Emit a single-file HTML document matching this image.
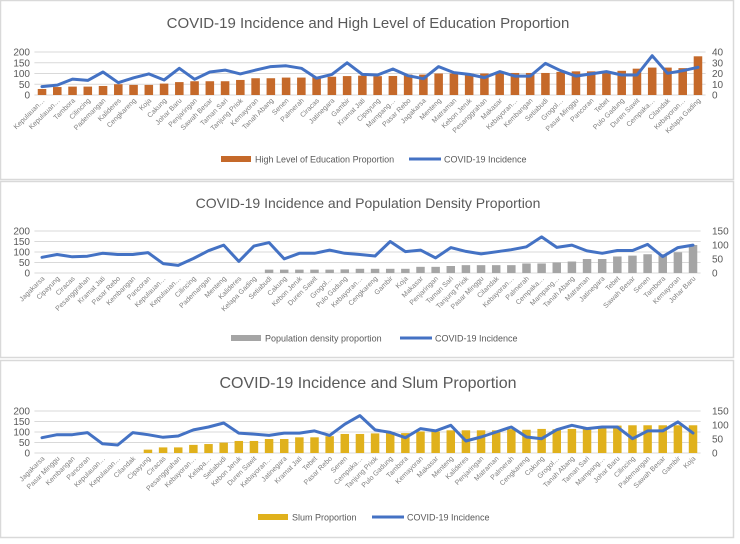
<!DOCTYPE html>
<html><head><meta charset="utf-8">
<style>
html,body{margin:0;padding:0;background:#fff;}
svg{display:block;font-family:"Liberation Sans",sans-serif;}
</style></head>
<body>
<svg id="chart" width="740" height="544" viewBox="0 0 740 544" xmlns="http://www.w3.org/2000/svg">
<rect x="0" y="0" width="740" height="544" fill="#fff"/>
</svg>
<script>
// Panel 1: education
const cats1 = ["Kepulauan…","Kepulauan…","Tambora","Cilincing","Pademangan","Kalideres","Cengkareng","Koja","Cakung","Johar Baru","Penjaringan","Sawah Besar","Taman Sari","Tanjung Priok","Kemayoran","Tanah Abang","Senen","Palmerah","Ciracas","Jatinegara","Gambir","Kramat Jati","Cipayung","Mampang…","Pasar Rebo","Jagakarsa","Menteng","Matraman","Kebon Jeruk","Pesanggrahan","Makasar","Kebayoran…","Kembangan","Setiabudi","Grogol…","Pasar Minggu","Pancoran","Tebet","Pulo Gadung","Duren Sawit","Cempaka…","Cilandak","Kebayoran…","Kelapa Gading"];
const edu1 = [5.6,7.4,7.8,7.8,8.4,10,9.4,9.4,10.6,12,12.8,12.8,12.8,14,15.6,15.6,16.2,16.2,17,17,17.6,18,17.5,17.7,19,19,20,20,20,20,20.5,20.5,20.5,20.5,21.5,22,22,22,22.5,24.5,25.5,25.5,25,36];
const inc1 = [39,46,74,68,107,57,80,98,70,124,73,107,116,98,116,132,136,124,78,96,150,96,93,121,90,76,132,104,96,81,109,88,88,147,113,88,98,109,93,93,183,101,113,129];
const left1Ticks = [0,50,100,150,200];
const right1Ticks = [0,10,20,30,40];

// Panel 2: population density
const cats2 = ["Jagakarsa","Cipayung","Ciracas","Pesanggrahan","Kramat Jati","Pasar Rebo","Kembangan","Pancoran","Kepulauan…","Kepulauan…","Cilincing","Pademangan","Menteng","Kalideres","Kelapa Gading","Setiabudi","Cakung","Kebon Jeruk","Duren Sawit","Grogol…","Pulo Gadung","Kebayoran…","Cengkareng","Gambir","Koja","Makasar","Penjaringan","Taman Sari","Tanjung Priok","Pasar Minggu","Cilandak","Kebayoran…","Palmerah","Cempaka…","Mampang…","Tanah Abang","Matraman","Jatinegara","Tebet","Sawah Besar","Senen","Tambora","Kemayoran","Johar Baru"];
const dens2 = [0,0,0,0,0,0,0,0,0,0,0,0,0,0,0,12,12,12,12,12,13,15,15,15,15,22,22,25,28,28,28,28,34,34,37.5,41,50,50,59,62,67,67,74,100];
const inc2 = [75,88,77,80,94,88,88,97,45,36,69,106,133,55,128,145,67,94,94,109,94,88,81,150,102,109,72,121,103,91,101,111,125,172,122,133,105,94,107,107,136,78,121,133];
const left2Ticks = [0,50,100,150,200];
const right2Ticks = [0,50,100,150];

// Panel 3: slum
const cats3 = ["Jagakarsa","Pasar Minggu","Kembangan","Pancoran","Kepulauan…","Kepulauan…","Cilandak","Cipayung","Ciracas","Pesanggrahan","Kebayoran…","Kelapa…","Setiabudi","Kebon Jeruk","Duren Sawit","Kebayoran…","Jatinegara","Kramat Jati","Tebet","Pasar Rebo","Senen","Cempaka…","Tanjung Priok","Pulo Gadung","Tambora","Kemayoran","Makasar","Menteng","Kalideres","Penjaringan","Matraman","Palmerah","Cengkareng","Cakung","Grogol…","Tanah Abang","Taman Sari","Mampang…","Johar Baru","Cilincing","Pademangan","Sawah Besar","Gambir","Koja"];
const slum3 = [0,0,0,0,0,0,0,12,20,20,29,32,37,43,43,50,50,56,56,60,68,68,70,75,71,77,77,81,81,81,81,85,83,86,85,86,88,90,98,99,99,99,99,99];
const inc3 = [73,87,87,97,44,38,97,87,75,81,110,124,143,95,90,84,95,95,105,84,137,178,110,98,73,116,105,132,57,76,100,124,76,68,111,132,116,124,124,68,105,105,148,95];
const left3Ticks = [0,50,100,150,200];
const right3Ticks = [0,50,100,150];

const NS = "http://www.w3.org/2000/svg";
const svg = document.getElementById("chart");
function mk(tag, attrs, parent){
  const e = document.createElementNS(NS, tag);
  for (const k in attrs) e.setAttribute(k, attrs[k]);
  (parent||svg).appendChild(e);
  return e;
}
function drawPanel(p){
  const g = mk("g", {});
  
  
  // frame
  const fr = mk("rect", {x:0.5, y:p.top+0.5, width:733, height:p.h, fill:"#fff", stroke:"#d9d9d9", "stroke-width":1.5}, g);
  
  
  const t = mk("text", {x:368, y:p.titleY, "text-anchor":"middle", "font-size":p.titleSize, fill:"#595959"}, g);
  t.textContent = p.title;
  
  
  const x0 = 34.4, x1 = p.xEnd, n = p.cats.length, bw = (x1-x0)/n;
  const yB = p.y0, yT = p.y200;
  const yL = v => yB - (v/p.lMax)*(yB-yT);
  const yR = v => yB - (v/p.rMax)*(yB-yT);
  const xC = i => x0 + bw*(i+0.5);
  p.lTicks.forEach(v=>{
    const ln = mk("line", {x1:x0, x2:x1, y1:yL(v), y2:yL(v), stroke:"#d9d9d9", "stroke-width":1}, g);
    
    
    const tx = mk("text", {x:30, y:yL(v)+3.5, "text-anchor":"end", "font-size":10, fill:"#595959"}, g);
    tx.textContent = v;
    
    
  });
  p.rTicks.forEach(v=>{
    const tx = mk("text", {x:712, y:yR(v)+3.5, "text-anchor":"start", "font-size":10, fill:"#595959"}, g);
    tx.textContent = v;
    
    
  });
  p.bars.forEach((v,i)=>{
    if (v<=0) return;
    const r = mk("rect", {x:xC(i)-bw*0.28, width:bw*0.56, y:yR(v), height:yB-yR(v), fill:p.barColor}, g);
    
    
  });
  const pts = p.line.map((v,i)=>xC(i).toFixed(1)+","+yL(v).toFixed(1)).join(" ");
  const pl = mk("polyline", {points:pts, fill:"none", stroke:"#4472c4", "stroke-width":3, "stroke-linejoin":"round", "stroke-linecap":"round"}, g);
  
  
  p.cats.forEach((c,i)=>{
    const x = xC(i)+3, y = yB+6;
    const tx = mk("text", {x:x, y:y, "text-anchor":"end", "font-size":7, fill:"#7f7f7f", transform:"rotate(-45 "+x+" "+y+")"}, g);
    tx.textContent = c;
    
    
  });
  const ly = p.legY;
  const sw = mk("rect", {x:p.legX, y:ly-3, width:30, height:6, fill:p.barColor}, g);
  
  
  const lt = mk("text", {x:p.legX+34, y:ly+3.5, "font-size":9, fill:"#595959"}, g);
  lt.textContent = p.barLabel;
  
  
  const ll = mk("line", {x1:p.leg2X, x2:p.leg2X+32, y1:ly, y2:ly, stroke:"#4472c4", "stroke-width":3}, g);
  
  
  const lt2 = mk("text", {x:p.leg2X+35, y:ly+3.5, "font-size":9, fill:"#595959"}, g);
  lt2.textContent = "COVID-19 Incidence";
  
  
}
drawPanel({name:"education-panel", top:0, h:179, title:"COVID-19 Incidence and High Level of Education Proportion", titleY:28, titleSize:15,
  cats:cats1, bars:edu1, line:inc1, lTicks:left1Ticks, rTicks:right1Ticks, lMax:200, rMax:40, y0:95, y200:52, xEnd:705.6,
  barColor:"#c5692a", barLabel:"High Level of Education Proportion", legX:221, leg2X:409, legY:159});
drawPanel({name:"density-panel", top:181, h:176, title:"COVID-19 Incidence and Population Density Proportion", titleY:208, titleSize:14,
  cats:cats2, bars:dens2, line:inc2, lTicks:left2Ticks, rTicks:right2Ticks, lMax:200, rMax:150, y0:273, y200:231, xEnd:700.6,
  barColor:"#a5a5a5", barLabel:"Population density proportion", legX:231, leg2X:400, legY:338});
drawPanel({name:"slum-panel", top:360, h:177, title:"COVID-19 Incidence and Slum Proportion", titleY:388, titleSize:16,
  cats:cats3, bars:slum3, line:inc3, lTicks:left3Ticks, rTicks:right3Ticks, lMax:200, rMax:150, y0:453, y200:411, xEnd:700.6,
  barColor:"#e0b11c", barLabel:"Slum Proportion", legX:258, leg2X:372, legY:517});
</script>
</body></html>
